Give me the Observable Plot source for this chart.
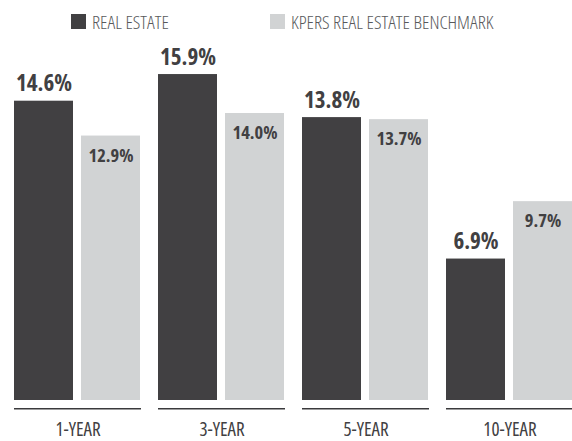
<!DOCTYPE html>
<html>
<head>
<meta charset="utf-8">
<script src="https://cdn.jsdelivr.net/npm/d3@7"></script>
<script src="https://cdn.jsdelivr.net/npm/@observablehq/plot@0.6"></script>
<style>
  html, body { margin: 0; padding: 0; background: #fff; overflow: hidden; }
  #wrap { position: relative; width: 572px; height: 441px; }
  .legend { position: relative; height: 40px; width: 572px; font-family: "Open Sans", sans-serif; font-stretch: 75%; }
  .item { position: absolute; top: 14px; height: 15px; }
  .sw { position: absolute; left: 0; top: 0; width: 15px; height: 15px; }
  .lab { position: absolute; left: 21px; top: -2.4px; font-size: 19px; line-height: 20px; font-weight: 300; color: #58595b; white-space: nowrap; }
</style>
</head>
<body>
<div id="wrap">
  <div class="legend" id="legend"></div>
  <div id="chart"></div>
</div>
<script>
const periods = ["1-YEAR", "3-YEAR", "5-YEAR", "10-YEAR"];
const series = ["REAL ESTATE", "KPERS REAL ESTATE BENCHMARK"];
const realEstate = [14.6, 15.9, 13.8, 6.9];
const benchmark = [12.9, 14.0, 13.7, 9.7];
const colors = ["#414042", "#d1d3d4"];

const data = [];
periods.forEach((p, i) => {
  data.push({period: p, series: series[0], value: realEstate[i]});
  data.push({period: p, series: series[1], value: benchmark[i]});
});

// legend
const legendX = [71, 270];
const leg = document.getElementById("legend");
series.forEach((s, i) => {
  const it = document.createElement("div");
  it.className = "item";
  it.style.left = legendX[i] + "px";
  it.innerHTML = `<div class="sw" style="background:${colors[i]}"></div><div class="lab">${s}</div>`;
  leg.appendChild(it);
});

const fmt = d => d.value.toFixed(1) + "%";

const chart = Plot.plot({
  width: 572,
  height: 401,
  marginLeft: 13,
  marginRight: -3,
  marginTop: 11.5,
  marginBottom: 41,
  style: {fontFamily: '"Open Sans", sans-serif', fontStretch: "75%", background: "#fff", overflow: "hidden"},
  fx: {domain: periods, paddingInner: 0.1154, paddingOuter: 0, label: null},
  x: {domain: series, paddingInner: 0.1176, paddingOuter: 0, axis: null},
  y: {domain: [0, 17], axis: null},
  color: {domain: series, range: colors},
  marks: [
    Plot.barY(data, {fx: "period", x: "series", y: "value", fill: "series"}),
    Plot.ruleY([0], {dy: 8.3, stroke: "#3a3a3c", strokeWidth: 1.6}),
    Plot.text(data.filter(d => d.series === series[0]), {
      fx: "period", x: "series", y: "value", text: fmt,
      dy: -10, lineAnchor: "bottom", fontSize: 23, fontWeight: 700, fill: "#414042"
    }),
    Plot.text(data.filter(d => d.series === series[1]), {
      fx: "period", x: "series", y: "value", text: fmt,
      dy: 12.5, lineAnchor: "top", fontSize: 18.5, fontWeight: 700, fill: "#414042"
    }),
    Plot.axisFx({anchor: "bottom", tickSize: 0, tickPadding: 22, fontSize: 19, fontWeight: 400, fill: "#414042", label: null})
  ]
});
document.getElementById("chart").appendChild(chart);
</script>
</body>
</html>
